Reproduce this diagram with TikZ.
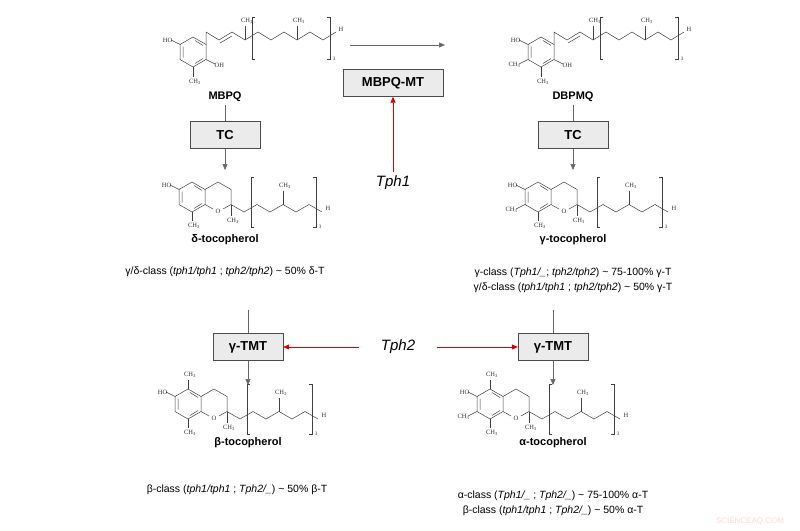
\documentclass[tikz,border=0pt]{standalone}
\usepackage{fontspec}
\setmainfont{Liberation Sans}
\newfontfamily\chemfont{Liberation Serif}
\usetikzlibrary{arrows.meta}
\tikzset{
 bond/.style={draw=black!75,line width=0.5pt},
 ch/.style={font=\chemfont\fontsize{6.5}{7}\selectfont,inner sep=0.5pt,text=black!80},
 enz/.style={draw=black!70,fill=black!8,font=\bfseries\fontsize{13}{15}\selectfont,minimum width=70pt,minimum height=27pt,inner sep=2pt},
 mlabel/.style={font=\bfseries\fontsize{11}{13}\selectfont},
 cls/.style={font=\fontsize{10.5}{15}\selectfont,align=center},
 gene/.style={font=\itshape\fontsize{15}{17}\selectfont},
 garr/.style={draw=black!60,line width=0.6pt,-{Triangle[length=6pt,width=5pt]}},
 rarr/.style={draw=red!85!black,line width=0.7pt,-{Triangle[length=6pt,width=5pt]}},
 gline/.style={draw=black!60,line width=0.6pt}
}
\newcommand{\tailchain}{%
 \draw[bond] (39,7.5)--(52,15)--(65,7.5)--(78,15)--(91,7.5)--(104,15)--(117,7.5)--(130,15);
 \draw[bond] (91,7.5)--(91,-6);
 \node[ch] at (93,-11) {CH\textsubscript{3}};
 \node[ch] at (136,11) {H};
 \draw[bond] (62,-20)--(59,-20)--(59,30)--(62,30);
 \draw[bond] (121,-20)--(124,-20)--(124,30)--(121,30);
 \node[ch,font=\chemfont\fontsize{5}{5}\selectfont] at (128,30) {3};
}
\newcommand{\benz}{%
 \draw[bond] (0,-15)--(13,-7.5)--(13,7.5)--(0,15)--(-13,7.5)--(-13,-7.5)--cycle;
 \draw[bond] (-10,-5.5)--(-10,5.5) (2,-11.5)--(10,-6.5) (2,11.5)--(10,6.5);
}
\newcommand{\toco}[4]{%
 \begin{scope}[shift={(#1,#2)}]
 \benz
 \draw[bond] (0,15)--(0,24);
 \node[ch] at (2,29) {CH\textsubscript{3}};
 \draw[bond] (-13,-7.5)--(-22,-12);
 \node[ch,anchor=east] at (-20,-12) {HO};
 \draw[bond] (13,-7.5)--(26,-15)--(39,-7.5)--(39,7.5)--(31,12) (21,12)--(13,7.5);
 \node[ch] at (26,14) {O};
 \draw[bond] (39,7.5)--(39,19);
 \node[ch] at (41,24) {CH\textsubscript{3}};
 \ifnum#3=1 \draw[bond] (0,-15)--(0,-24); \node[ch] at (2,-29) {CH\textsubscript{3}};\fi
 \ifnum#4=1 \draw[bond] (-13,7.5)--(-22,12); \node[ch,anchor=east] at (-20,13) {CH\textsubscript{3}};\fi
 \tailchain
 \end{scope}}
\newcommand{\quin}[3]{%
 \begin{scope}[shift={(#1,#2)}]
 \benz
 \draw[bond] (-13,-7.5)--(-22,-12);
 \node[ch,anchor=east] at (-20,-12) {HO};
 \draw[bond] (0,15)--(0,25);
 \node[ch] at (2,30) {CH\textsubscript{3}};
 \draw[bond] (13,7.5)--(22,12);
 \node[ch,anchor=west] at (21,13) {OH};
 \ifnum#3=1 \draw[bond] (-13,7.5)--(-22,12); \node[ch,anchor=east] at (-20,13) {CH\textsubscript{3}};\fi
 \draw[bond] (13,-7.5)--(13,-20)--(26,-12)--(39,-20)--(52,-12)--(65,-20)--(78,-12)--(91,-20)--(104,-12)--(117,-20)--(130,-12)--(143,-20);
 \draw[bond] (27,-9)--(39,-16);
 \draw[bond] (52,-12)--(52,-26);
 \node[ch] at (54,-31) {CH\textsubscript{3}};
 \draw[bond] (104,-12)--(104,-26);
 \node[ch] at (106,-31) {CH\textsubscript{3}};
 \node[ch] at (148,-23) {H};
 \draw[bond] (62,-35)--(59,-35)--(59,7)--(62,7);
 \draw[bond] (134,-35)--(137,-35)--(137,7)--(134,7);
 \node[ch,font=\chemfont\fontsize{5}{5}\selectfont] at (141,7) {3};
 \end{scope}}
\begin{document}
\begin{tikzpicture}[x=1pt,y=-1pt]
\useasboundingbox[fill=white] (0,0) rectangle (800,530);
\quin{193}{52}{0}
\quin{541}{52}{1}
\toco{192}{197}{0}{0}
\toco{538}{197}{0}{1}
\toco{188}{404}{1}{0}
\toco{490}{404}{1}{1}
\node[mlabel] (mbpq) at (225,97) {MBPQ};
\node[mlabel] (dbpmq) at (573,97) {DBPMQ};
\node[mlabel] (delta) at (225,240) {δ-tocopherol};
\node[mlabel] (gamma) at (573,240) {γ-tocopherol};
\node[mlabel] (beta) at (248,443) {β-tocopherol};
\node[mlabel] (alpha) at (553,443) {α-tocopherol};
\coordinate (ta) at (350,45); \coordinate (tb) at (445,45);
\draw[garr] (ta)--(tb);
\node[enz,minimum width=100pt] (mt) at (393,83) {MBPQ-MT};
\node[gene] (tph1) at (393,183) {Tph1};
\draw[rarr] (tph1.north)--(mt.south);
\node[enz] (tc1) at (225,135) {TC};
\node[enz] (tc2) at (573,135) {TC};
\coordinate (d1) at (225,170); \coordinate (d2) at (573,170);
\draw[gline] (mbpq.south)--(tc1.north);
\draw[gline] (dbpmq.south)--(tc2.north);
\draw[garr] (tc1.south)--(d1);
\draw[garr] (tc2.south)--(d2);
\node[cls] (c1) at (225,272) {γ/δ-class (\textit{tph1/tph1} ; \textit{tph2/tph2}) \textasciitilde{} 50\% δ-T};
\node[cls] (c2) at (573,280) {γ-class (\textit{Tph1/\_}; \textit{tph2/tph2}) \textasciitilde{} 75-100\% γ-T\\γ/δ-class (\textit{tph1/tph1} ; \textit{tph2/tph2}) \textasciitilde{} 50\% γ-T};
\node[enz] (tmt1) at (248,347) {γ-TMT};
\node[enz] (tmt2) at (553,347) {γ-TMT};
\coordinate (u1) at (248,310); \coordinate (u2) at (553,310);
\draw[gline] (u1)--(tmt1.north);
\draw[gline] (u2)--(tmt2.north);
\node[gene] (tph2) at (398,347) {Tph2};
\draw[rarr] ([xshift=-18pt]tph2.west)--(tmt1.east);
\draw[rarr] ([xshift=18pt]tph2.east)--(tmt2.west);
\coordinate (e1) at (248,385); \coordinate (e2) at (553,385);
\draw[garr] (tmt1.south)--(e1);
\draw[garr] (tmt2.south)--(e2);
\node[cls] (c3) at (237,490) {β-class (\textit{tph1/tph1} ; \textit{Tph2/\_}) \textasciitilde{} 50\% β-T};
\node[cls] (c4) at (553,503) {α-class (\textit{Tph1/\_} ; \textit{Tph2/\_}) \textasciitilde{} 75-100\% α-T\\β-class (\textit{tph1/tph1} ; \textit{Tph2/\_}) \textasciitilde{} 50\% α-T};
\node[font=\fontsize{8}{9}\selectfont,text=red!15] (wm) at (750,521) {SCIENCEAQ.COM};
\end{tikzpicture}
\end{document}
